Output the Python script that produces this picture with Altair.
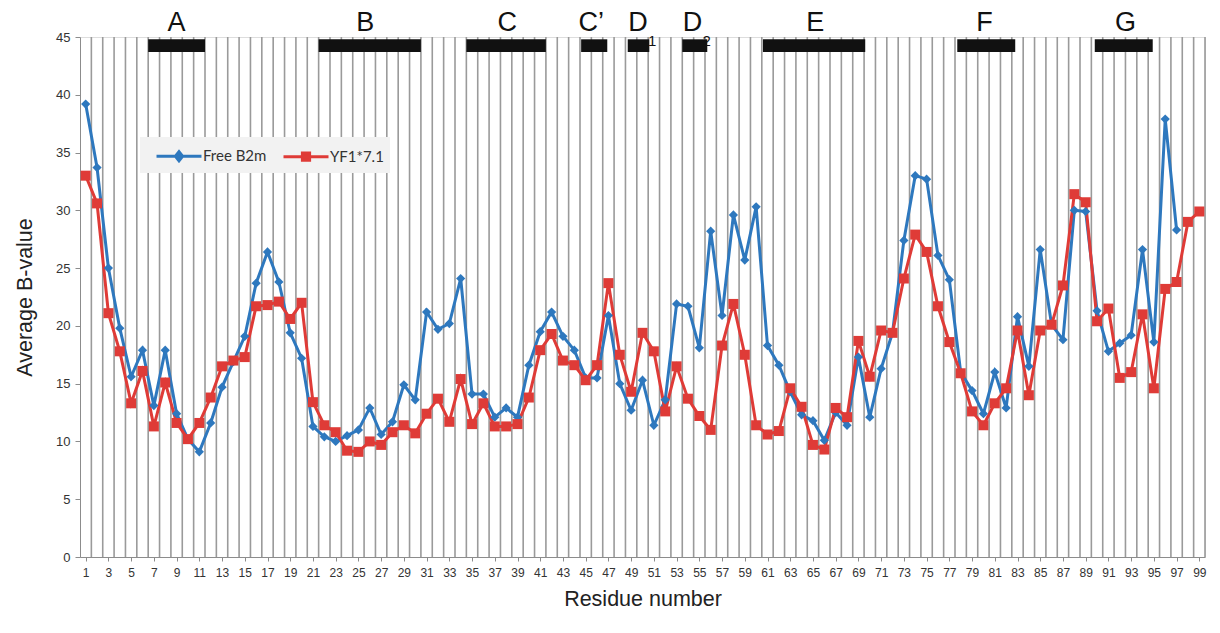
import altair as alt
import pandas as pd

# ---------------- data ----------------
residues = list(range(1, 100))

free_b2m = [
    39.2, 33.7, 25.0, 19.8, 15.6, 17.9, 13.1, 17.9, 12.4, 10.2,
    9.1, 11.6, 14.7, 16.9, 19.1, 23.7, 26.4, 23.8, 19.4, 17.2,
    11.3, 10.4, 10.0, 10.5, 11.0, 12.9, 10.6, 11.7, 14.9, 13.6,
    21.2, 19.7, 20.2, 24.1, 14.1, 14.1, 12.1, 12.9, 12.1, 16.6,
    19.5, 21.2, 19.1, 17.9, 15.5, 15.5, 20.9, 15.0, 12.7, 15.3,
    11.4, 13.6, 21.9, 21.7, 18.1, 28.2, 20.9, 29.6, 25.7, 30.3,
    18.3, 16.6, 14.3, 12.3, 11.8, 10.1, 12.5, 11.4, 17.3, 12.1,
    16.3, 19.4, 27.4, 33.0, 32.7, 26.1, 24.0, 16.0, 14.4, 12.4,
    16.0, 12.9, 20.8, 16.5, 26.6, 20.1, 18.8, 30.0, 29.9, 21.3,
    17.8, 18.5, 19.2, 26.6, 18.6, 37.9, 28.3, None, None,
]

yf1_71 = [
    33.0, 30.6, 21.1, 17.8, 13.3, 16.1, 11.3, 15.1, 11.6, 10.2,
    11.6, 13.8, 16.5, 17.0, 17.3, 21.7, 21.8, 22.1, 20.6, 22.0,
    13.4, 11.4, 10.8, 9.2, 9.1, 10.0, 9.7, 10.8, 11.4, 10.7,
    12.4, 13.7, 11.7, 15.4, 11.5, 13.3, 11.3, 11.3, 11.5, 13.8,
    17.9, 19.3, 17.0, 16.6, 15.3, 16.6, 23.7, 17.5, 14.3, 19.4,
    17.8, 12.6, 16.5, 13.7, 12.2, 11.0, 18.3, 21.9, 17.5, 11.4,
    10.6, 10.9, 14.6, 13.0, 9.7, 9.3, 12.9, 12.1, 18.7, 15.6,
    19.6, 19.4, 24.1, 27.9, 26.4, 21.7, 18.6, 15.9, 12.6, 11.4,
    13.3, 14.6, 19.6, 14.0, 19.6, 20.1, 23.5, 31.4, 30.7, 20.4,
    21.5, 15.5, 16.0, 21.0, 14.6, 23.2, 23.8, 29.0, 29.9,
]

series_names = ["Free B2m", "YF1*7.1"]
series_colors = ["#2E78BE", "#DF3B37"]

strand_labels = ["A", "B", "C", "C\u2019", "D", "D", "E", "F", "G"]
strand_subs = ["", "", "", "", "1", "2", "", "", ""]
strand_start = [6.5, 21.5, 34.5, 44.6, 48.7, 53.5, 60.6, 77.7, 89.8]
strand_end = [11.5, 30.5, 41.5, 46.9, 50.6, 55.7, 69.6, 82.8, 94.9]
strand_label_pos = [9.0, 25.6, 38.1, 45.5, 49.6, 54.4, 65.2, 80.1, 92.5]

x_ticks = list(range(1, 100, 2))
y_ticks = list(range(0, 50, 5))

# ---------------- tables ----------------
rows = []
for name, vals in zip(series_names, [free_b2m, yf1_71]):
    for r, v in zip(residues, vals):
        if v is not None:
            rows.append({"residue": r, "value": v, "series": name})
df = pd.DataFrame(rows)

grid_df = pd.DataFrame({"residue": residues})
strand_df = pd.DataFrame({
    "label": strand_labels, "sub": strand_subs,
    "start": strand_start, "end": strand_end, "pos": strand_label_pos,
})

FONT = "Liberation Sans"
xscale = alt.Scale(domain=[0.5, 99.5], nice=False, zero=False)
yscale = alt.Scale(domain=[0, 45], nice=False)

x_axis = alt.Axis(values=x_ticks, title="Residue number", grid=False,
                  labelFont=FONT, labelFontSize=12, labelColor="#333",
                  titleFont=FONT, titleFontSize=21.5, titleFontWeight="normal",
                  titleColor="#222", titlePadding=10, domainColor="#8c8c8c",
                  tickColor="#8c8c8c", tickSize=4, labelPadding=6,
                  labelFlush=False, labelOverlap=False)
y_axis = alt.Axis(values=y_ticks, title="Average B-value", grid=False,
                  labelFont=FONT, labelFontSize=13, labelColor="#333",
                  titleFont=FONT, titleFontSize=21.5, titleFontWeight="normal",
                  titleColor="#222", titlePadding=19, domainColor="#8c8c8c",
                  tickColor="#8c8c8c", tickSize=5, labelPadding=5)

color_scale = alt.Scale(domain=series_names, range=series_colors)


def X(field):
    return alt.X(field, scale=xscale, axis=x_axis)


def Ydat(v):
    return alt.YDatum(v, scale=yscale, axis=y_axis)


# vertical category grid
grid = alt.Chart(grid_df).transform_calculate(
    b="datum.residue + 0.5"
).mark_rule(color="#9a9a9a", strokeWidth=1.6).encode(
    x=X("b:Q"),
    y=Ydat(0),
    y2=alt.datum(45),
)

lines = alt.Chart(df).mark_line(strokeWidth=3).encode(
    x=X("residue:Q"),
    y=alt.Y("value:Q", scale=yscale, axis=y_axis),
    color=alt.Color("series:N", scale=color_scale, legend=None),
)

points = alt.Chart(df).mark_point(filled=True, opacity=1).encode(
    x=X("residue:Q"),
    y=alt.Y("value:Q", scale=yscale, axis=y_axis),
    color=alt.Color("series:N", scale=color_scale, legend=None),
    shape=alt.Shape("series:N", scale=alt.Scale(domain=series_names,
                    range=["diamond", "square"]), legend=None),
    size=alt.Size("series:N", scale=alt.Scale(domain=series_names,
                  range=[85, 100]), legend=None),
)

# legend (line + marker symbols); symbol drawn wider than its layout box
path_diamond = "M-2,0L2,0M0,-0.4L0.32,0L0,0.4L-0.32,0Z"
path_square = "M-2,0L2,0M-0.32,-0.32L0.32,-0.32L0.32,0.32L-0.32,0.32Z"
legend_spec = dict(
    orient="none", legendX=60, legendY=100, direction="horizontal",
    title=None, fillColor="#f2f2f2", padding=6, labelFont="Lato",
    labelFontSize=15, labelColor="#333", columnPadding=6, labelOffset=11,
    symbolOffset=20, symbolStrokeWidth=3, symbolSize=506,
)
legend_layer = alt.Chart(df).transform_filter("false").mark_point(
    size=506, opacity=1, strokeWidth=3
).encode(
    x=X("residue:Q"),
    y=alt.Y("value:Q", scale=yscale, axis=y_axis),
    fill=alt.Fill("series:N", scale=color_scale, legend=alt.Legend(**legend_spec)),
    stroke=alt.Stroke("series:N", scale=color_scale, legend=alt.Legend(**legend_spec)),
    shape=alt.Shape("series:N", scale=alt.Scale(domain=series_names,
                    range=[path_diamond, path_square]),
                    legend=alt.Legend(**legend_spec)),
)

bars = alt.Chart(strand_df).mark_rect(color="#111").encode(
    x=X("start:Q"),
    x2="end:Q",
    y=Ydat(44.8),
    y2=alt.datum(43.7),
)

labels = alt.Chart(strand_df).mark_text(
    font=FONT, fontSize=27, baseline="alphabetic", align="center", color="#111"
).encode(
    x=X("pos:Q"),
    y=Ydat(45.5),
    text="label:N",
)

subs = alt.Chart(strand_df).transform_filter("datum.sub != ''").mark_text(
    font=FONT, fontSize=15, baseline="alphabetic", align="left", color="#111", dx=10
).encode(
    x=X("pos:Q"),
    y=Ydat(44.2),
    text="sub:N",
)

chart = alt.layer(grid, bars, labels, subs, lines, points, legend_layer).resolve_scale(
    color="independent", shape="independent", size="independent",
    fill="independent", stroke="independent"
).properties(
    width=1125, height=520,
    autosize=alt.AutoSizeParams(type="none"),
    padding={"left": 80, "top": 37, "right": 15, "bottom": 76},
).configure_view(stroke=None).configure(background="white")

chart.save("out.html", embed_options={"renderer": "svg", "actions": False})
